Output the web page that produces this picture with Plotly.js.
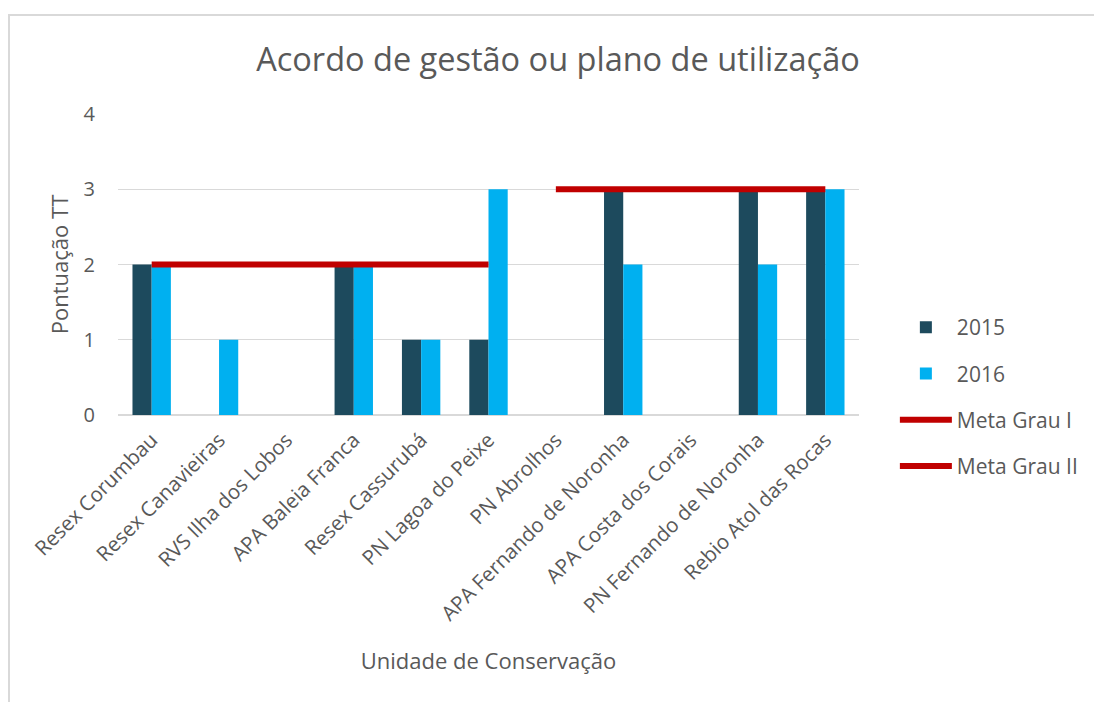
<!DOCTYPE html>
<html>
<head>
<meta charset="utf-8">
<script src="https://cdn.plot.ly/plotly-3.0.1.min.js"></script>
<style>
html,body{margin:0;padding:0;background:#fff;}
#chart{width:1094px;height:702px;}
#frame{position:absolute;left:8px;top:14px;width:1100px;height:700px;border-left:2px solid #d9d9d9;border-top:2px solid #d9d9d9;pointer-events:none;}
</style>
</head>
<body>
<div id="chart"></div>
<div id="frame"></div>
<script>
const categories = ["Resex Corumbau","Resex Canavieiras","RVS Ilha dos Lobos","APA Baleia Franca","Resex Cassurubá","PN Lagoa do Peixe","PN Abrolhos","APA Fernando de Noronha","APA Costa dos Corais","PN Fernando de Noronha","Rebio Atol das Rocas"];
const values2015 = [2,0,0,2,1,1,0,3,0,3,3];
const values2016 = [2,1,0,2,1,3,0,2,0,2,3];
const metaGrauI  = [2,2,2,2,2,2,null,null,null,null,null];
const metaGrauII = [null,null,null,null,null,null,3,3,3,3,3];
const yTicks = [0,1,2,3,4];

const txt = '#595959';
const font = '"Open Sans", "DejaVu Sans", sans-serif';

const traces = [
  {type:'bar', name:'2015', x:categories, y:values2015, marker:{color:'#1D4A5D'}, legendgroup:'a'},
  {type:'bar', name:'2016', x:categories, y:values2016, marker:{color:'#00B0F0'}, legendgroup:'b'},
  {type:'scatter', mode:'lines', name:'Meta Grau I', x:categories, y:metaGrauI, line:{color:'#C00000', width:6}, legendgroup:'c'},
  {type:'scatter', mode:'lines', name:'Meta Grau II', x:categories, y:metaGrauII, line:{color:'#C00000', width:6}, legendgroup:'d'}
];

const layout = {
  width:1094, height:702,
  paper_bgcolor:'#fff', plot_bgcolor:'#fff',
  margin:{l:118, r:234, t:114, b:287},
  font:{family:font, color:txt, size:20},
  title:{text:'Acordo de gestão ou plano de utilização', font:{size:32.5, color:txt, family:font}, x:558/1094, xref:'container', xanchor:'center', y:1-60/702, yref:'container', yanchor:'middle'},
  barmode:'group', bargap:0.43, bargroupgap:0,
  showlegend:true,
  legend:{x:1.047, xanchor:'left', y:(415-397)/301, yanchor:'middle', font:{size:21, color:txt}, tracegroupgap:16, traceorder:'grouped', itemwidth:52, bgcolor:'rgba(0,0,0,0)'},
  xaxis:{type:'category', tickangle:-45, tickfont:{size:20.5, color:txt}, showgrid:false, showline:false, ticks:'', automargin:false, ticklabelstandoff:8,
         title:{text:'Unidade de Conservação', font:{size:22, color:txt}, standoff:28}},
  yaxis:{range:[0,4], tickvals:yTicks, ticktext:yTicks.map(String), tickfont:{size:20, color:txt}, gridcolor:'#d9d9d9', gridwidth:1.3,
         zeroline:true, zerolinecolor:'#d9d9d9', zerolinewidth:2, showline:false, ticks:'', ticklabelstandoff:22, automargin:false,
         title:{text:'Pontuação TT', font:{size:22, color:txt}, standoff:8}}
};

Plotly.newPlot('chart', traces, layout, {displayModeBar:false, staticPlot:true});
</script>
</body>
</html>
